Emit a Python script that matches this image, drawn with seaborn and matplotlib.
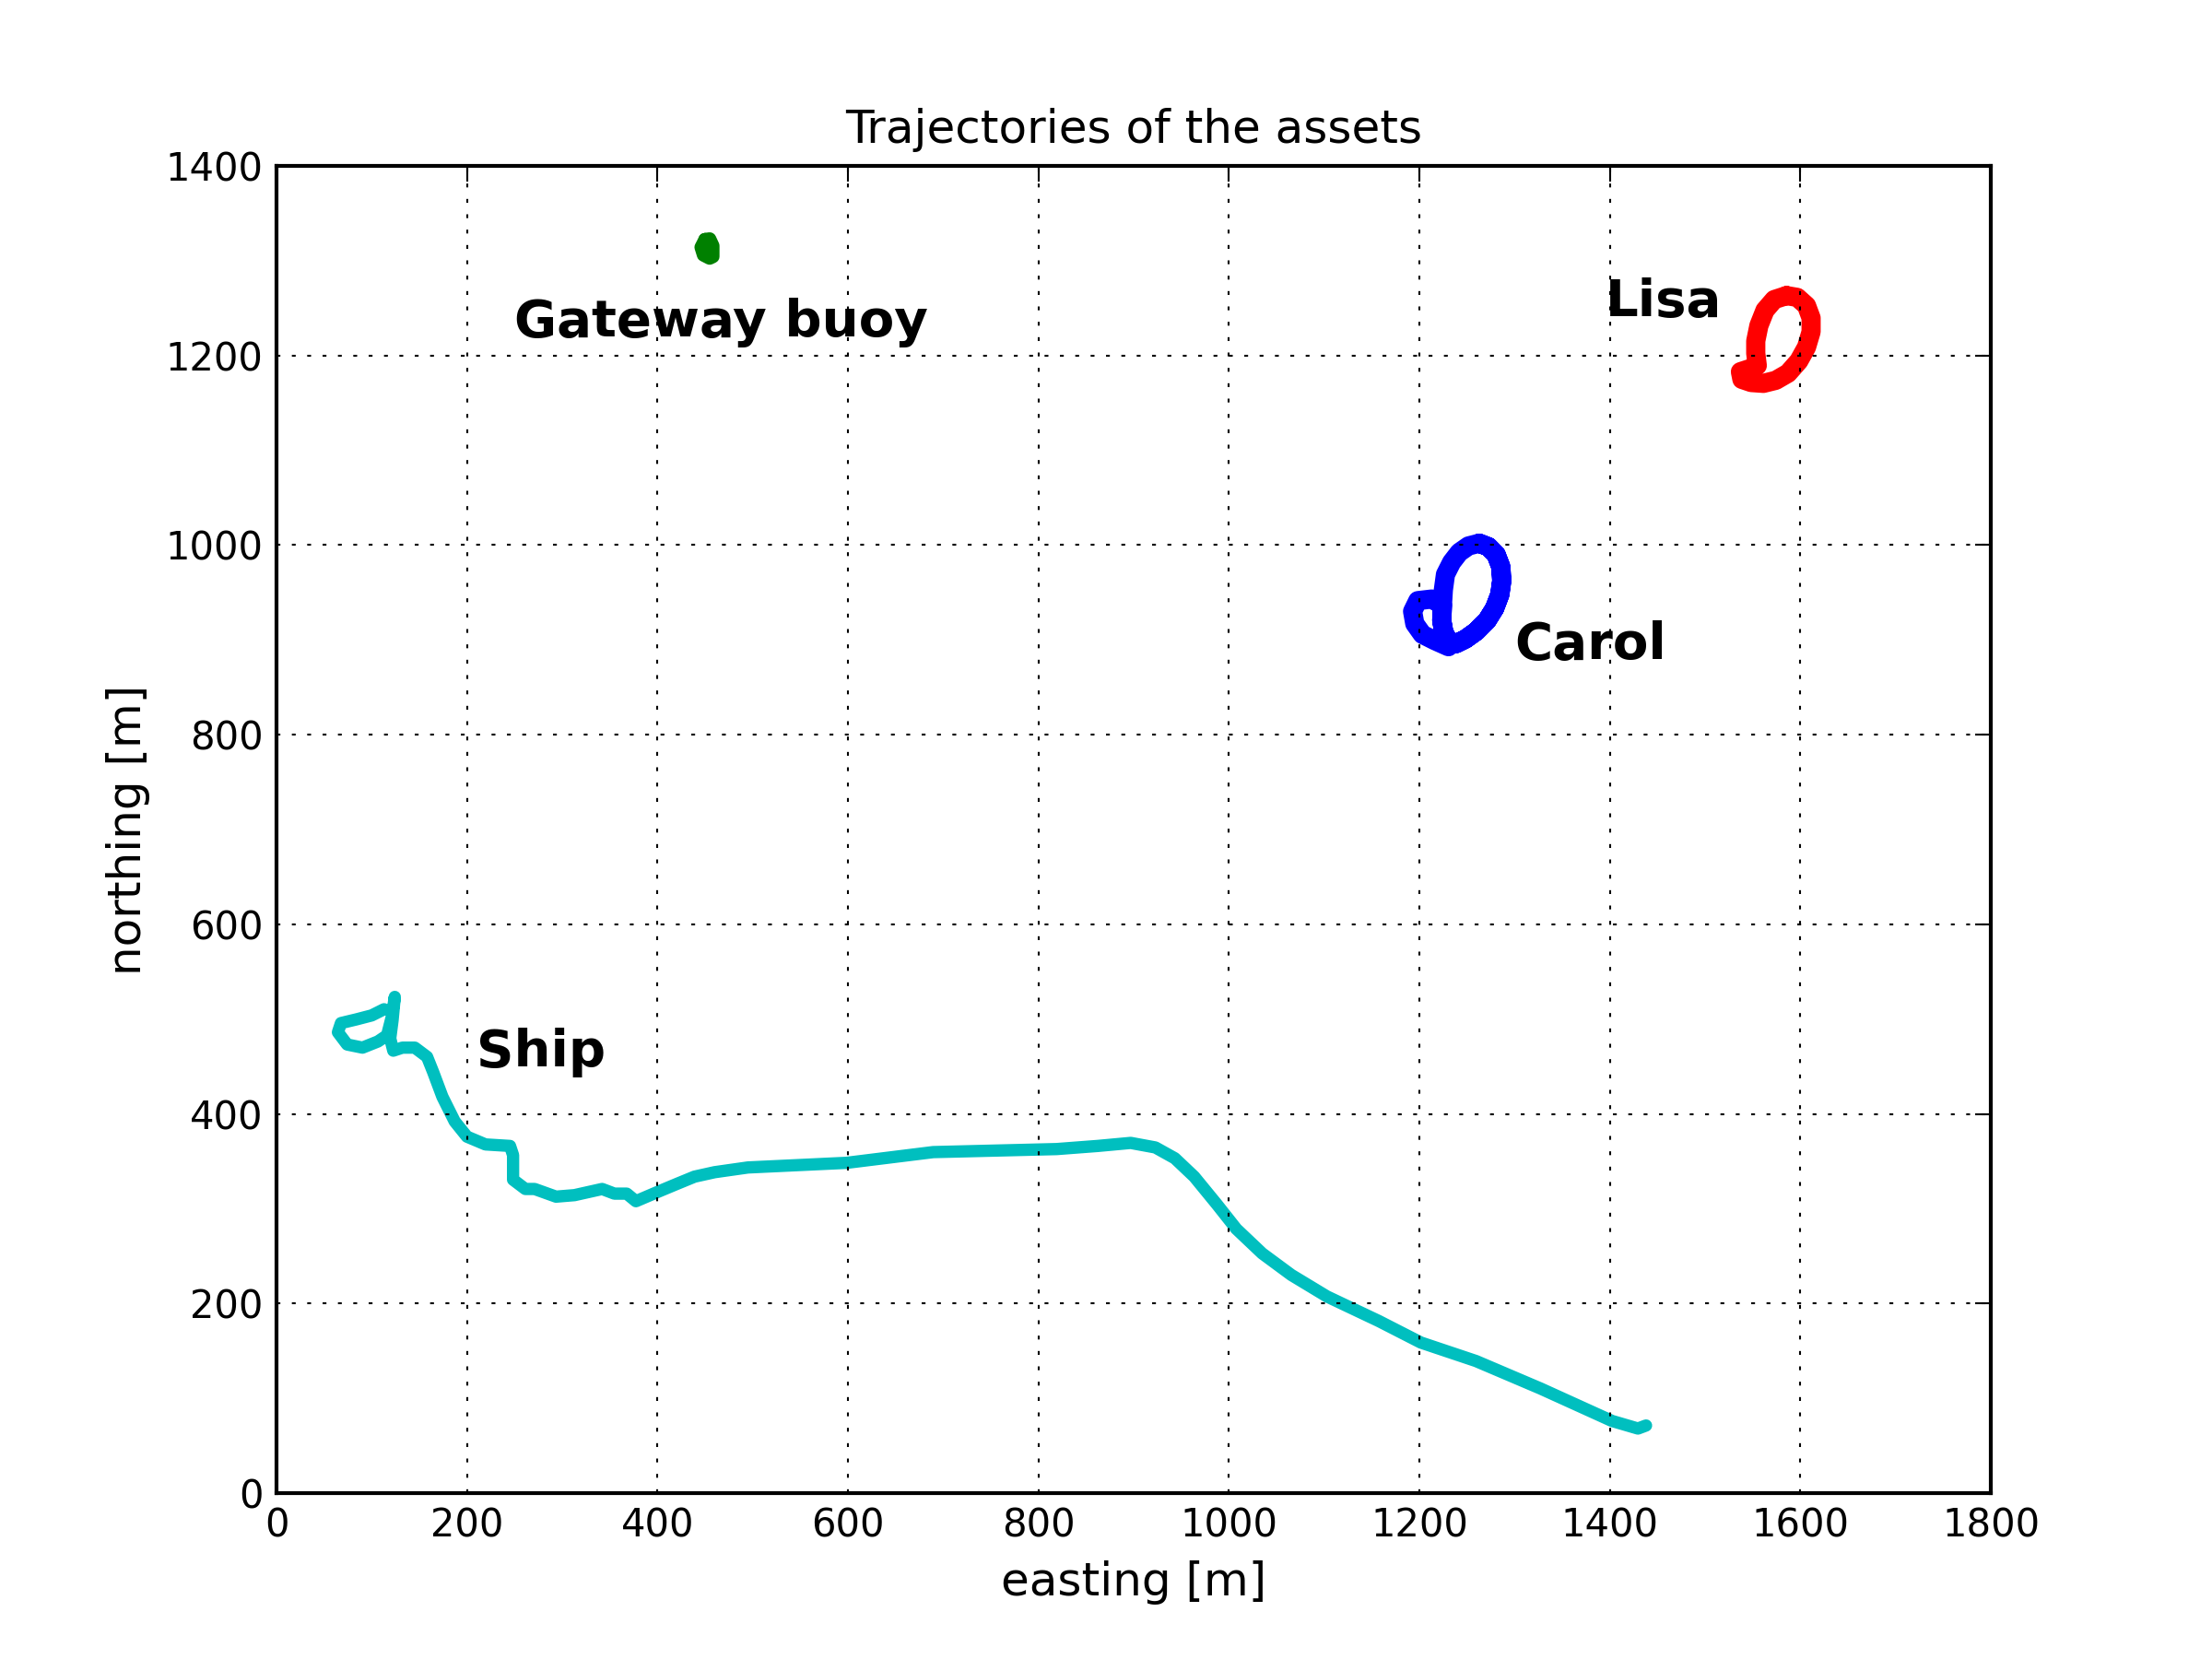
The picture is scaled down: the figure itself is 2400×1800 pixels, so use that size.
import numpy as np
import pandas as pd
import matplotlib
matplotlib.use("Agg")
import matplotlib.pyplot as plt
import seaborn as sns

# ---------------- data ----------------
ship_x = [112.9, 100.0, 83.9, 67.7, 64.5, 74.2, 90.3, 106.5, 116.1, 121.0, 124.2, 121.9,
          119.4, 122.6, 132.3, 145.2, 158.1, 164.5, 174.2, 187.1, 200.0, 219.4, 245.2, 248.4,
          248.4, 261.3, 271.0, 293.5, 312.9, 341.9, 354.8, 367.7, 377.4, 400.0, 420.0, 438.9,
          460.0, 495.0, 598.8, 689.5, 754.4, 819.1, 862.3, 896.9, 922.8, 943.2, 963.6, 987.4,
          1007.8, 1035.0, 1065.6, 1103.0, 1157.4, 1201.6, 1259.5, 1327.5, 1402.3, 1429.5, 1438.0]
ship_y = [510.4, 503.9, 499.7, 495.8, 486.1, 473.2, 469.9, 476.4, 482.9, 502.3, 523.4, 499.0,
          479.6, 466.7, 469.9, 469.9, 460.2, 444.1, 418.1, 392.1, 376.0, 367.8, 366.2, 356.5,
          330.6, 320.8, 320.8, 312.7, 314.3, 320.8, 315.9, 315.9, 307.9, 317.6, 326.0, 333.8,
          338.5, 343.5, 348.4, 359.7, 361.3, 362.9, 366.2, 369.4, 364.6, 353.2, 333.8, 304.6,
          278.7, 252.8, 230.1, 207.4, 181.5, 158.8, 139.3, 110.2, 76.1, 68.1, 71.3]

carol_x = [1262.9, 1272.6, 1280.6, 1285.5, 1286.5, 1284.5, 1279.0, 1271.0, 1259.7, 1248.4,
           1238.7, 1230.6, 1225.8, 1223.5, 1224.2, 1225.2, 1227.4, 1233.9, 1241.9, 1251.6,
           1262.9, 1272.6, 1280.6, 1285.5, 1286.5, 1284.5, 1279.0, 1271.0, 1259.7, 1248.4,
           1238.7, 1230.6, 1225.8, 1223.5, 1224.2, 1212.9, 1198.4, 1192.9, 1195.2, 1203.2,
           1216.1, 1230.6]
carol_y = [1002.0, 998.2, 990.0, 977.1, 962.5, 947.9, 933.3, 920.4, 909.0, 900.9,
           896.1, 899.3, 907.4, 920.4, 936.6, 952.8, 969.0, 981.9, 992.3, 999.1,
           1002.0, 998.2, 990.0, 977.1, 962.5, 947.9, 933.3, 920.4, 909.0, 900.9,
           896.1, 899.3, 907.4, 920.4, 936.6, 943.1, 941.4, 930.1, 917.1, 905.8,
           899.3, 892.8]

lisa_x = [1585.5, 1596.8, 1606.5, 1611.3, 1611.3, 1606.5, 1598.4, 1587.1, 1574.2, 1561.3,
          1548.4, 1538.7, 1537.1, 1546.8, 1554.8, 1553.2, 1553.2, 1556.5, 1562.9, 1572.6,
          1585.5]
lisa_y = [1263.2, 1261.3, 1252.6, 1239.6, 1225.0, 1208.8, 1194.2, 1181.3, 1173.8, 1170.6,
          1171.5, 1174.8, 1182.9, 1186.1, 1189.4, 1202.3, 1215.3, 1231.5, 1247.7, 1259.0,
          1263.2]

buoy_x = [450.0, 454.8, 458.1, 458.1, 454.8, 448.4, 445.9, 450.0]
buoy_y = [1322.2, 1322.9, 1315.7, 1304.4, 1302.8, 1306.1, 1314.2, 1322.2]

labels = ["Gateway buoy", "Lisa", "Carol", "Ship"]
label_x = [250, 1395, 1300, 210]
label_y = [1220, 1242, 880, 450]

xticks = [0, 200, 400, 600, 800, 1000, 1200, 1400, 1600, 1800]
yticks = [0, 200, 400, 600, 800, 1000, 1200, 1400]

# ---------------- style ----------------
sns.set_theme(style="white")
plt.rcParams.update({
    "font.family": ["DejaVu Sans"],
    "axes.edgecolor": "black",
    "axes.linewidth": 1.0,
    "xtick.direction": "in",
    "ytick.direction": "in",
    "xtick.top": True,
    "ytick.right": True,
    "xtick.major.size": 4,
    "ytick.major.size": 4,
    "xtick.major.width": 0.5,
    "ytick.major.width": 0.5,
    "xtick.color": "black",
    "ytick.color": "black",
    "xtick.major.pad": 3.5,
    "ytick.major.pad": 3.5,
})

fig = plt.figure(figsize=(8, 6), dpi=300)
ax = fig.add_axes([0.125, 0.1, 0.775, 0.8])

def traj(x, y, color, lw):
    df = pd.DataFrame({"x": x, "y": y})
    sns.lineplot(data=df, x="x", y="y", sort=False, estimator=None, color=color,
                 linewidth=lw, ax=ax, solid_capstyle="round", solid_joinstyle="round")

traj(ship_x, ship_y, (0, 0.75, 0.75), 3.2)
traj(carol_x, carol_y, "blue", 5.0)
traj(lisa_x, lisa_y, "red", 5.0)
traj(buoy_x, buoy_y, "green", 3.5)

for t, x, y in zip(labels, label_x, label_y):
    ax.text(x, y, t, fontsize=13.5, fontweight="bold", color="black")

ax.set_xlim(0, 1800)
ax.set_ylim(0, 1400)
ax.set_xticks(xticks)
ax.set_yticks(yticks)
ax.tick_params(labelsize=10)
ax.grid(True, color="black", linestyle=(0, (2, 6)), linewidth=0.5)
ax.set_axisbelow(False)
ax.set_xlabel("easting [m]", fontsize=12, color="black")
ax.set_ylabel("northing [m]", fontsize=12, color="black")
ax.set_title("Trajectories of the assets", fontsize=12, color="black")
for s in ax.spines.values():
    s.set_visible(True)
    s.set_color("black")
    s.set_linewidth(1.0)

fig.savefig("out.png", dpi=300, facecolor="white")
